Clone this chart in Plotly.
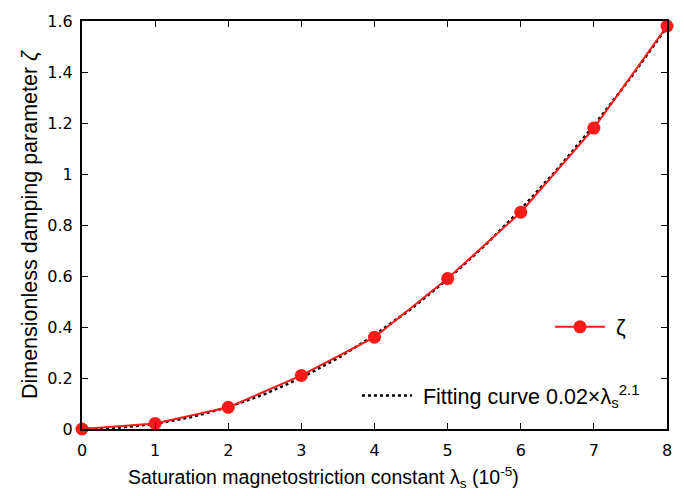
import plotly.graph_objects as go

x_data = [0, 1, 2, 3, 4, 5, 6, 7, 8]
zeta = [0.0, 0.022, 0.085, 0.21, 0.36, 0.59, 0.85, 1.18, 1.58]

x_fit = [0, 0.5, 1, 1.5, 2, 2.5, 3, 3.5, 4, 4.5, 5, 5.5, 6, 6.5, 7, 7.5, 8]
y_fit = [0.0, 0.005, 0.02, 0.047, 0.086, 0.137, 0.201, 0.278, 0.368, 0.471,
         0.587, 0.717, 0.861, 1.019, 1.19, 1.376, 1.576]

x_ticks = [0, 1, 2, 3, 4, 5, 6, 7, 8]
y_ticks = [0, 0.2, 0.4, 0.6, 0.8, 1.0, 1.2, 1.4, 1.6]
y_ticklabels = ["0", "0.2", "0.4", "0.6", "0.8", "1", "1.2", "1.4", "1.6"]

fig = go.Figure()
fig.add_trace(go.Scatter(
    x=x_fit, y=y_fit, mode="lines",
    name="\u00a0Fitting curve 0.02×λ<sub>s</sub><sup>2.1</sup>",
    line=dict(color="black", width=2.5, dash="dot"), legend="legend2",
    showlegend=True, cliponaxis=False))
fig.add_trace(go.Scatter(
    x=x_data, y=zeta, mode="lines+markers", name="\u00a0ζ",
    line=dict(color="#ff1a1a", width=2), marker=dict(color="#ff1a1a", size=13),
    legend="legend", showlegend=True, cliponaxis=False))

axis_common = dict(showline=True, linecolor="black", linewidth=2, mirror="ticks",
                   ticks="inside", ticklen=6, tickwidth=1, tickcolor="black",
                   showgrid=False, zeroline=False,
                   tickfont=dict(family="DejaVu Sans", size=16, color="black"))

fig.update_xaxes(range=[0, 8], tickvals=x_ticks, ticktext=[str(t) for t in x_ticks],
                 ticklabelstandoff=6, **axis_common)
fig.update_yaxes(range=[0, 1.6], tickvals=y_ticks, ticktext=y_ticklabels,
                 ticklabelstandoff=4,
                 title=dict(text="Dimensionless damping parameter <i>ζ</i>",
                            font=dict(family="Liberation Sans", size=21.5, color="black"), standoff=4),
                 **axis_common)

fig.add_annotation(
    text="Saturation magnetostriction constant λ<sub>s</sub> (10<sup>-5</sup>)",
    xref="paper", yref="paper", x=(323 - 82) / 585, y=(429 - 479) / 417,
    xanchor="center", yanchor="middle", showarrow=False,
    font=dict(family="Liberation Sans", size=19.5, color="black"))

fig.update_layout(
    width=684, height=496,
    margin=dict(l=82, r=17, t=12, b=67),
    plot_bgcolor="white", paper_bgcolor="white",
    legend=dict(x=0.8, y=0.25, xanchor="left", yanchor="middle", bgcolor="rgba(0,0,0,0)",
                font=dict(family="Liberation Sans", size=22, color="black"), itemwidth=50),
    legend2=dict(x=0.47, y=0.082, xanchor="left", yanchor="middle", bgcolor="rgba(0,0,0,0)",
                 font=dict(family="Liberation Sans", size=21.5, color="black"), itemwidth=50),
)

fig.write_html("out.html")
